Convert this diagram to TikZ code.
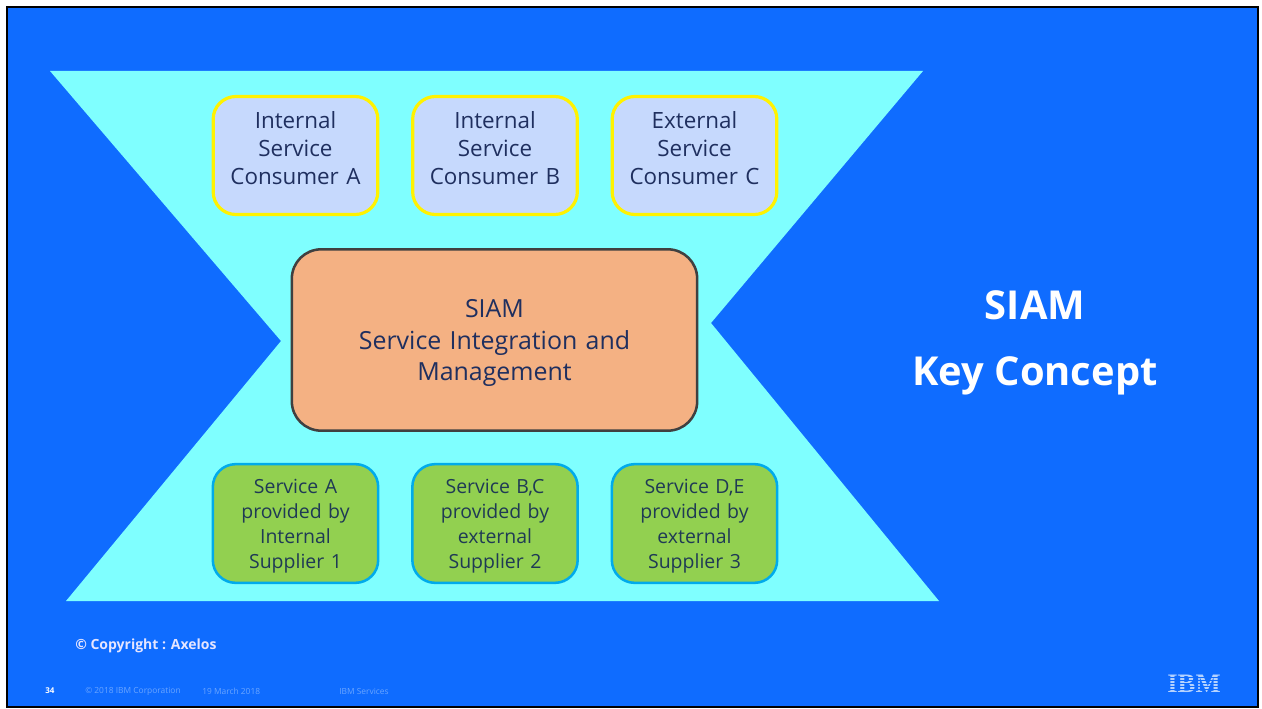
\documentclass[tikz,border=0pt]{standalone}
\usepackage{fontspec}
\setmainfont{Open Sans}
\definecolor{bluebg}{HTML}{0F6CFF}
\definecolor{aqua}{HTML}{7FFFFF}
\definecolor{cons}{HTML}{C6D9FD}
\definecolor{orangebox}{HTML}{F4B183}
\definecolor{greenbox}{HTML}{92D050}
\definecolor{inktext}{HTML}{1F2F5F}
\definecolor{greentext}{HTML}{1F3A55}
\definecolor{servline}{HTML}{00ABEB}
\definecolor{footertext}{HTML}{6AA5FF}
\definecolor{logotext}{HTML}{B4D2FF}
\tikzset{
 consumer/.style={draw=yellow,line width=2.4pt,fill=cons,rounded corners=17pt,minimum width=123.5pt,minimum height=88.5pt,text width=115pt,align=center,text=inktext,font=\fontsize{16.8}{21}\selectfont},
 service/.style={draw=servline,line width=1.9pt,fill=greenbox,rounded corners=17pt,minimum width=124pt,minimum height=89pt,text width=115pt,align=center,text=greentext,font=\fontsize{14.6}{18.7}\selectfont},
 siam/.style={draw=black!75,line width=1.9pt,fill=orangebox,rounded corners=22pt,minimum width=304pt,minimum height=136pt,text width=290pt,align=center,text=inktext,font=\fontsize{18.7}{23.5}\selectfont},
 title/.style={text=white,font=\bfseries\fontsize{29.9}{49.5}\selectfont,align=center},
 foot/.style={text=footertext,font=\fontsize{6.3}{7}\selectfont,anchor=west,inner sep=0pt},
}
\begin{document}
\begin{tikzpicture}[x=0.75pt,y=-0.75pt]
\useasboundingbox (0,0) rectangle (1262,709);
\fill[white] (0,0) rectangle (1262,709);
\draw[draw=black,line width=1.5pt,fill=bluebg] (7,7) rectangle (1258,707);
\fill[aqua] (50,71) -- (923,71) -- (711,323) -- (939,601) -- (66,601) -- (281,341) -- cycle;
\node[consumer] (ca) at (295.5,155.5) {Internal\\Service\\Consumer A\rule[-12pt]{0pt}{1pt}};
\node[consumer] (cb) at (495,155.5) {Internal\\Service\\Consumer B\rule[-12pt]{0pt}{1pt}};
\node[consumer] (cc) at (694.5,155.5) {External\\Service\\Consumer C\rule[-12pt]{0pt}{1pt}};
\node[siam] (s) at (494.5,340) {\rule{0pt}{18pt}SIAM\\Service Integration and\\Management};
\node[service] (sa) at (295.5,523.5) {\rule{0pt}{15pt}Service A\\provided by\\Internal\\Supplier 1};
\node[service] (sb) at (495,523.5) {\rule{0pt}{15pt}Service B,C\\provided by\\external\\Supplier 2};
\node[service] (sd) at (694.5,523.5) {\rule{0pt}{15pt}Service D,E\\provided by\\external\\Supplier 3};
\node[title] (t) at (1035,343) {SIAM\\Key Concept};
\node[text=white!90!blue,font=\fontsize{10.5}{12}\selectfont,anchor=west,inner sep=0pt] (c) at (75,646) {\textbf{© Copyright : Axelos}};
\node[text=white,font=\bfseries\fontsize{6}{7}\selectfont,anchor=west,inner sep=0pt] (n) at (45,691) {34};
\node[foot] (f1) at (85,691) {© 2018 IBM Corporation};
\node[foot] (f2) at (202,691) {19 March 2018};
\node[foot] (f3) at (339,691) {IBM Services};
\node[text=logotext,font=\fontsize{20}{20}\selectfont\bfseries,inner sep=0pt] (ibm) at (1194,684) {\fontspec{Liberation Serif}IBM};
\foreach \yy in {677.5,680.5,683.5,686.5,689.5} \draw[bluebg,line width=0.5pt] (1168,\yy) -- (1220,\yy);
\end{tikzpicture}
\end{document}
